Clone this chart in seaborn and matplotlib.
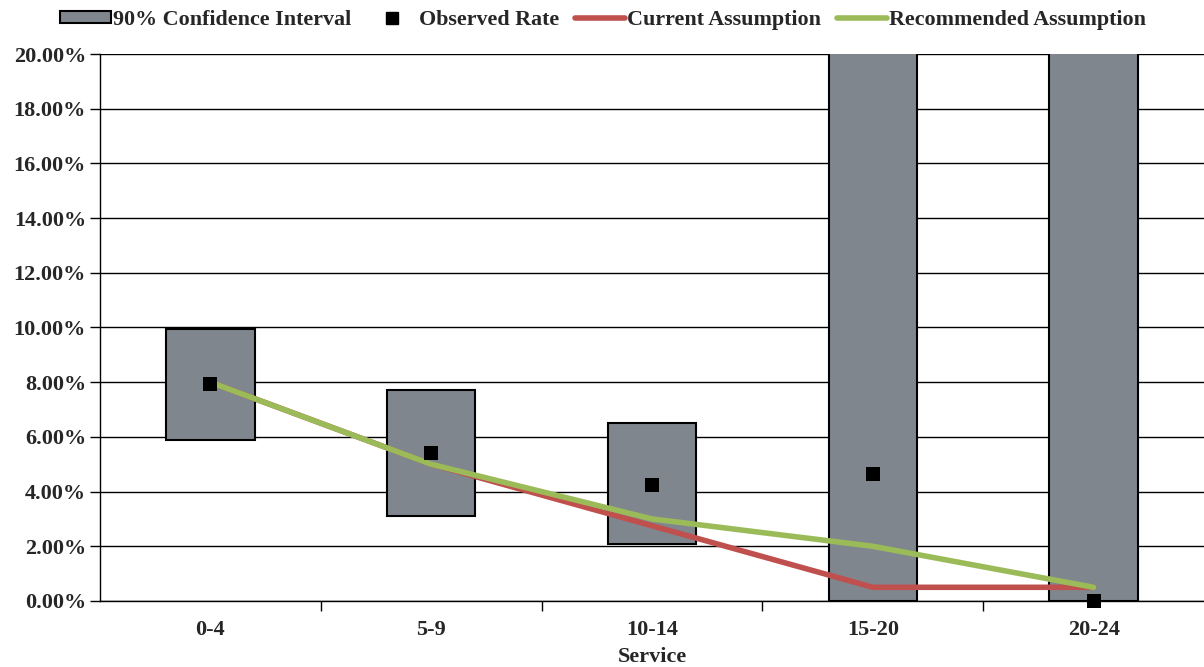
import numpy as np
import matplotlib
matplotlib.use("Agg")
import matplotlib.pyplot as plt
import seaborn as sns
from matplotlib.patches import Patch
from matplotlib.lines import Line2D
from matplotlib.ticker import FuncFormatter, FixedLocator

# Data (rates as fractions)
categories = ["0-4", "5-9", "10-14", "15-20", "20-24"]
ci_low = [0.059, 0.031, 0.021, 0.0, 0.0]
ci_high = [0.0995, 0.077, 0.065, 0.30, 0.30]
observed = [0.0795, 0.054, 0.0425, 0.0465, 0.0]
current = [0.08, 0.05, 0.0275, 0.005, 0.005]
recommended = [0.08, 0.05, 0.03, 0.02, 0.005]

sns.set_style("white")
plt.rcParams["font.family"] = ["Liberation Serif", "DejaVu Serif"]
plt.rcParams["font.weight"] = "bold"

fig, ax = plt.subplots(figsize=(12.04, 6.67), dpi=100)
fig.subplots_adjust(left=0.083, right=1.0, top=0.919, bottom=0.099)

x = np.arange(len(categories))
bar_color = "#80868e"
red = "#c0504d"
green = "#9bbb59"
fs = 16

# floating CI boxes
ax.bar(x, np.array(ci_high) - np.array(ci_low), bottom=ci_low, width=0.4,
       color=bar_color, edgecolor="black", linewidth=1.5, zorder=2)

sns.lineplot(x=x, y=current, ax=ax, color=red, linewidth=4, zorder=3,
             solid_capstyle="round")
sns.lineplot(x=x, y=recommended, ax=ax, color=green, linewidth=4, zorder=3.5,
             solid_capstyle="round")
sns.scatterplot(x=x, y=observed, ax=ax, color="black", marker="s", s=90,
                edgecolor="black", linewidth=0, zorder=5, clip_on=False)

ax.set_ylim(0, 0.20)
ax.set_xlim(-0.5, len(categories) - 0.5)
ax.yaxis.set_major_locator(FixedLocator(np.arange(0, 0.2001, 0.02)))
ax.yaxis.set_major_formatter(FuncFormatter(lambda v, p: f"{v * 100:.2f}%"))
ax.grid(axis="y", color="black", linewidth=1.0, zorder=0)
ax.set_axisbelow(True)

# boundaries get tick marks, centres get labels
ax.set_xticks(x[:-1] + 0.5)
ax.set_xticklabels([])
ax.set_xticks(x, minor=True)
ax.set_xticklabels(categories, minor=True)
ax.tick_params(axis="x", which="major", direction="out", length=7, width=1,
               color="black", bottom=True)
ax.tick_params(axis="x", which="minor", length=0, pad=14, labelsize=fs)
ax.tick_params(axis="y", direction="out", length=7, width=1, color="black",
               left=True, labelsize=fs, pad=3)

for s in ["top", "right"]:
    ax.spines[s].set_visible(False)
ax.spines["left"].set_color("black")
ax.spines["bottom"].set_color("black")
ax.spines["left"].set_linewidth(1)
ax.spines["bottom"].set_linewidth(1)

ax.set_xlabel("Service", fontsize=fs, fontweight="bold", labelpad=5)
ax.set_ylabel("")

handles = [
    Patch(facecolor=bar_color, edgecolor="black", linewidth=1.5),
    Line2D([], [], color="black", marker="s", linestyle="none", markersize=8),
    Line2D([], [], color=red, linewidth=4),
    Line2D([], [], color=green, linewidth=4),
]
labels = ["90% Confidence Interval", "Observed Rate", "Current Assumption",
          "Recommended Assumption"]
fig.legend(handles, labels, loc="upper center", bbox_to_anchor=(0.501, 1.0),
           ncol=4, frameon=False, fontsize=15.8, handlelength=2.3,
           handleheight=0.5, handletextpad=0.1, columnspacing=0.7,
           borderaxespad=0.05)

fig.savefig("out.png", dpi=100)
